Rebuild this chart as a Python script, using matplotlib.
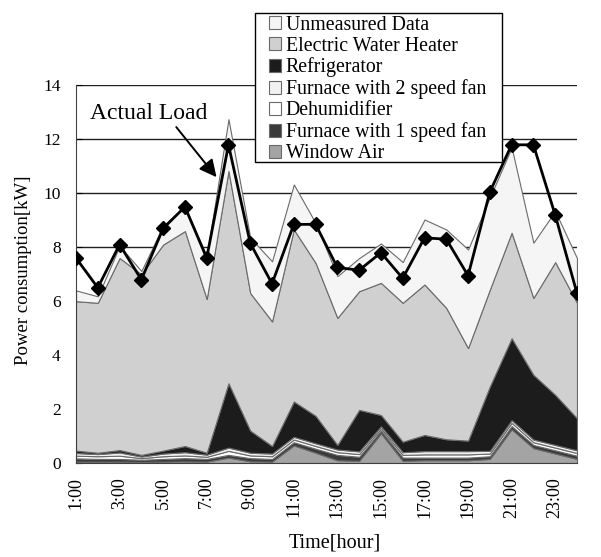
import numpy as np
import matplotlib.pyplot as plt
import matplotlib as mpl
from matplotlib.patches import Rectangle

mpl.rcParams['font.family'] = ['Liberation Serif', 'DejaVu Serif']

hours = list(range(1, 25))
tick_labels = ['{}:00'.format(h) if h % 2 == 1 else '' for h in hours]

# stacked layers, bottom to top (kW)
window_air = [0.05, 0.05, 0.05, 0.04, 0.05, 0.06, 0.05, 0.20, 0.06, 0.05, 0.65, 0.38,
              0.10, 0.08, 1.10, 0.08, 0.10, 0.10, 0.10, 0.15, 1.25, 0.55, 0.35, 0.15]
furnace_1 = [0.12, 0.10, 0.10, 0.08, 0.10, 0.12, 0.10, 0.10, 0.12, 0.10, 0.12, 0.15,
             0.20, 0.15, 0.10, 0.12, 0.10, 0.10, 0.10, 0.10, 0.12, 0.12, 0.12, 0.12]
dehumidifier = [0.10, 0.10, 0.12, 0.06, 0.10, 0.10, 0.08, 0.15, 0.10, 0.10, 0.10, 0.10,
                0.10, 0.10, 0.08, 0.10, 0.12, 0.12, 0.12, 0.10, 0.12, 0.10, 0.10, 0.10]
furnace_2 = [0.10, 0.08, 0.12, 0.06, 0.10, 0.12, 0.08, 0.12, 0.10, 0.10, 0.10, 0.10,
             0.10, 0.10, 0.08, 0.10, 0.12, 0.12, 0.12, 0.10, 0.10, 0.10, 0.10, 0.10]
refrigerator = [0.09, 0.05, 0.09, 0.06, 0.11, 0.23, 0.07, 2.39, 0.82, 0.28, 1.31, 1.02,
                0.17, 1.54, 0.42, 0.39, 0.60, 0.44, 0.39, 2.39, 3.04, 2.40, 1.86, 1.19]
water_heater = [5.54, 5.56, 7.12, 6.70, 7.64, 7.97, 5.70, 7.87, 5.10, 4.62, 6.38, 5.67,
                4.71, 4.40, 4.90, 5.15, 5.58, 4.87, 3.43, 3.59, 3.91, 2.85, 4.92, 4.28]
unmeasured = [0.40, 0.24, 0.45, 0.12, 0.70, 0.90, 1.59, 1.92, 2.05, 2.23, 1.67, 1.48,
              1.55, 1.23, 1.46, 1.51, 2.41, 2.91, 3.66, 3.42, 3.16, 2.05, 1.89, 1.66]

actual_load = [7.6, 6.5, 8.1, 6.8, 8.7, 9.5, 7.6, 11.8, 8.15, 6.65, 8.85, 8.85,
               7.25, 7.15, 7.8, 6.85, 8.35, 8.3, 6.95, 10.05, 11.8, 11.8, 9.2, 6.3]

layers = [window_air, furnace_1, dehumidifier, furnace_2, refrigerator, water_heater, unmeasured]
names = ['Window Air', 'Furnace with 1 speed fan', 'Dehumidifier', 'Furnace with 2 speed fan',
         'Refrigerator', 'Electric Water Heater', 'Unmeasured Data']
colors = ['#a4a4a4', '#3a3a3a', '#ffffff', '#f2f2f2', '#1c1c1c', '#d0d0d0', '#f5f5f5']

fig = plt.figure(figsize=(6.01, 5.57), dpi=100)
ax = fig.add_axes([0.1265, 0.1688, 0.8335, 0.6777])

ax.set_axisbelow(True)
ax.yaxis.grid(True, color='#202020', lw=1.0)

polys = ax.stackplot(hours, *layers, colors=colors, edgecolor='#6a6a6a', lw=0.8)

ax.plot(hours, actual_load, color='black', lw=2, marker='D', ms=7, zorder=5)

ax.annotate('Actual Load', xy=(7.45, 10.6), xytext=(1.62, 12.95),
            fontsize=17, va='center', ha='left',
            arrowprops=dict(arrowstyle='-|>', color='black', lw=1.4,
                            mutation_scale=26, shrinkA=0, shrinkB=0,
                            relpos=(0.72, 0.0)))

ax.set_xlim(1, 24)
ax.set_ylim(0, 14)
ax.set_yticks(range(0, 15, 2))
ax.set_xticks(hours)
ax.set_xticklabels(tick_labels, rotation=90, fontsize=13)
ax.tick_params(axis='y', labelsize=12.5, direction='in', length=4, pad=11)
ax.tick_params(axis='x', direction='in', length=4, pad=10)
ax.spines['top'].set_visible(False)
ax.spines['right'].set_visible(False)
ax.spines['left'].set_color('#404040')
ax.spines['bottom'].set_color('#404040')

ax.set_ylabel('Power consumption[kW]', fontsize=13.5)
ax.yaxis.set_label_coords(-0.088, 0.51)
ax.set_xlabel('Time[hour]', fontsize=14.5)
ax.xaxis.set_label_coords(0.516, -0.186)

# legend box drawn separately so the padding can differ per side
box = Rectangle((0.4243, 0.7092), 0.411, 0.2675, transform=fig.transFigure,
                facecolor='white', edgecolor='black', lw=1.0, zorder=3)
fig.patches.append(box)

leg = fig.legend(polys[::-1], names[::-1], loc='upper left',
                 bbox_to_anchor=(0.447, 0.972), borderaxespad=0, fontsize=14.3,
                 handlelength=0.6, handleheight=0.6, handletextpad=0.25,
                 labelspacing=0.1, borderpad=0.0, frameon=False)
leg.set_zorder(4)

fig.savefig('out.png', dpi=100)
